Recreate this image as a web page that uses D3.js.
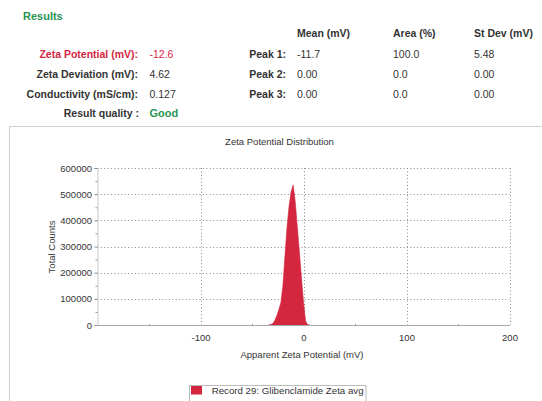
<!DOCTYPE html>
<html>
<head>
<meta charset="utf-8">
<script src="https://cdn.jsdelivr.net/npm/d3@7"></script>
<style>
  html, body { margin: 0; padding: 0; background: #fff; }
  svg { display: block; font-family: "Liberation Sans", Arial, sans-serif; }
</style>
</head>
<body>
<svg id="chart" width="542" height="401"></svg>
<script>
// Zeta potential distribution (mV) and total counts
const zetaMv      = [-34, -32, -30, -28, -26, -24, -22, -20, -18, -16, -14, -12, -10, -8, -6, -4, -2, 0, 2, 4, 6];
const totalCounts = [0, 1000, 5000, 16000, 34000, 58000, 85000, 150000, 265000, 375000, 455000, 510000, 535000, 470000, 375000, 280000, 180000, 88000, 15000, 1000, 0];

const xTicks      = [-100, 0, 100, 200];
const xMinorTicks = [-150, -50, 50, 150];
const yTicks      = [0, 100000, 200000, 300000, 400000, 500000, 600000];
const yMinorTicks = [50000, 150000, 250000, 350000, 450000, 550000];

// Results summary
const summaryLabels = ["Zeta Potential (mV):", "Zeta Deviation (mV):", "Conductivity (mS/cm):", "Result quality :"];
const summaryValues = ["-12.6", "4.62", "0.127", "Good"];
const peakColumns   = ["Mean (mV)", "Area (%)", "St Dev (mV)"];
const peakLabels    = ["Peak 1:", "Peak 2:", "Peak 3:"];
const peakMeans     = ["-11.7", "0.00", "0.00"];
const peakAreas     = ["100.0", "0.0", "0.0"];
const peakStDevs    = ["5.48", "0.00", "0.00"];

const seriesName = "Record 29: Glibenclamide Zeta avg";

const RED = "#d4263f";
const GREEN = "#2a9455";
const TEXT = "#333";

const svg = d3.select("#chart");

// ---- Results table ----
svg.append("text").attr("x", 23).attr("y", 19.5)
  .attr("font-size", 11).attr("font-weight", "bold").attr("fill", GREEN)
  .text("Results");

const colX = [297, 393, 474];
svg.selectAll("text.colhead").data(peakColumns).join("text")
  .attr("class", "colhead")
  .attr("x", (d, i) => colX[i]).attr("y", 37)
  .attr("font-size", 10.5).attr("font-weight", "bold").attr("fill", TEXT)
  .text(d => d);

const rowY = [58, 77.7, 97.5, 117];
summaryLabels.forEach((lab, i) => {
  const isZeta = i === 0;
  svg.append("text").attr("x", i === 3 ? 139 : 138).attr("y", rowY[i])
    .attr("text-anchor", "end").attr("font-size", 10.5).attr("font-weight", "bold")
    .attr("fill", isZeta ? RED : TEXT).text(lab);
  svg.append("text").attr("x", 149.5).attr("y", rowY[i])
    .attr("font-size", i === 3 ? 11 : 10.5)
    .attr("font-weight", i === 3 ? "bold" : "normal")
    .attr("fill", isZeta ? RED : (i === 3 ? GREEN : TEXT))
    .text(summaryValues[i]);
});

peakLabels.forEach((lab, i) => {
  svg.append("text").attr("x", 286).attr("y", rowY[i])
    .attr("text-anchor", "end").attr("font-size", 10.5).attr("font-weight", "bold")
    .attr("fill", TEXT).text(lab);
  [peakMeans[i], peakAreas[i], peakStDevs[i]].forEach((v, j) => {
    svg.append("text").attr("x", colX[j]).attr("y", rowY[i])
      .attr("font-size", 10.5).attr("fill", TEXT).text(v);
  });
});

// ---- Chart frame ----
svg.append("rect").attr("x", 9.5).attr("y", 126.5).attr("width", 540).attr("height", 300)
  .attr("fill", "none").attr("stroke", "#cfcfcf").attr("stroke-width", 1);

svg.append("text").attr("x", 279.5).attr("y", 145)
  .attr("text-anchor", "middle").attr("font-size", 9.5).attr("fill", TEXT)
  .text("Zeta Potential Distribution");

// ---- Scales ----
const x = d3.scaleLinear().domain([-200, 200]).range([97.5, 509.5]);
const y = d3.scaleLinear().domain([0, 600000]).range([325, 168]);

// Dotted grid
const grid = svg.append("g").attr("stroke", "#888").attr("stroke-width", 1)
  .attr("stroke-dasharray", "1,2.4");
grid.selectAll("line.h").data(yTicks.filter(d => d > 0)).join("line")
  .attr("class", "h")
  .attr("x1", x(-200)).attr("x2", x(200))
  .attr("y1", d => Math.round(y(d)) + 0.5).attr("y2", d => Math.round(y(d)) + 0.5);
grid.selectAll("line.v").data(xTicks).join("line")
  .attr("class", "v")
  .attr("x1", d => Math.round(x(d)) + 0.5).attr("x2", d => Math.round(x(d)) + 0.5)
  .attr("y1", y(600000)).attr("y2", y(0));

// Distribution area
const area = d3.area()
  .x((d, i) => x(zetaMv[i]))
  .y0(y(0))
  .y1((d, i) => y(totalCounts[i]));
svg.append("path").datum(totalCounts)
  .attr("d", area).attr("fill", RED).attr("stroke", RED).attr("stroke-width", 0.6);

// Axes (plain hyphen for negative tick labels)
const plainFormat = d => String(d);

const yAxis = d3.axisLeft(y).tickValues(yTicks).tickFormat(plainFormat)
  .tickSize(3).tickPadding(2.5);
const gy = svg.append("g").attr("transform", `translate(${x(-200)},0)`).call(yAxis);
gy.select(".domain").attr("stroke", "#c8c8c8");
gy.selectAll(".tick line").attr("stroke", "#888");
gy.selectAll("text").attr("font-size", 9.5).attr("fill", TEXT)
  .attr("font-family", "Liberation Sans, Arial, sans-serif");

const yMinor = d3.axisLeft(y).tickValues(yMinorTicks).tickSize(2).tickFormat("");
const gym = svg.append("g").attr("transform", `translate(${x(-200)},0)`).call(yMinor);
gym.select(".domain").remove();
gym.selectAll(".tick line").attr("stroke", "#999");

const xAxis = d3.axisBottom(x).tickValues(xTicks).tickFormat(plainFormat)
  .tickSize(0).tickPadding(9);
const gx = svg.append("g").attr("transform", `translate(0,${y(0)})`).call(xAxis);
gx.select(".domain").attr("stroke", "#aaa");
gx.selectAll("text").attr("font-size", 9.5).attr("fill", TEXT)
  .attr("font-family", "Liberation Sans, Arial, sans-serif");

const xMinor = d3.axisBottom(x).tickValues(xMinorTicks).tickSize(2).tickFormat("");
const gxm = svg.append("g").attr("transform", `translate(0,${y(0) - 1})`).call(xMinor);
gxm.select(".domain").remove();
gxm.selectAll(".tick line").attr("stroke", "#999");

svg.append("text").attr("x", 302).attr("y", 357.5)
  .attr("text-anchor", "middle").attr("font-size", 9.5).attr("fill", TEXT)
  .text("Apparent Zeta Potential (mV)");

svg.append("text")
  .attr("transform", "translate(55,247) rotate(-90)")
  .attr("text-anchor", "middle").attr("font-size", 9.5).attr("fill", TEXT)
  .text("Total Counts");

// ---- Legend ----
const lg = svg.append("g");
lg.append("rect").attr("x", 189.5).attr("y", 385.5).attr("width", 176.5).attr("height", 17)
  .attr("fill", "#fff").attr("stroke", "#bbb");
lg.append("rect").attr("x", 191).attr("y", 386).attr("width", 11).attr("height", 8.5)
  .attr("fill", RED);
lg.append("text").attr("x", 211.7).attr("y", 394.3)
  .attr("font-size", 9.7).attr("fill", TEXT).text(seriesName);
</script>
</body>
</html>
